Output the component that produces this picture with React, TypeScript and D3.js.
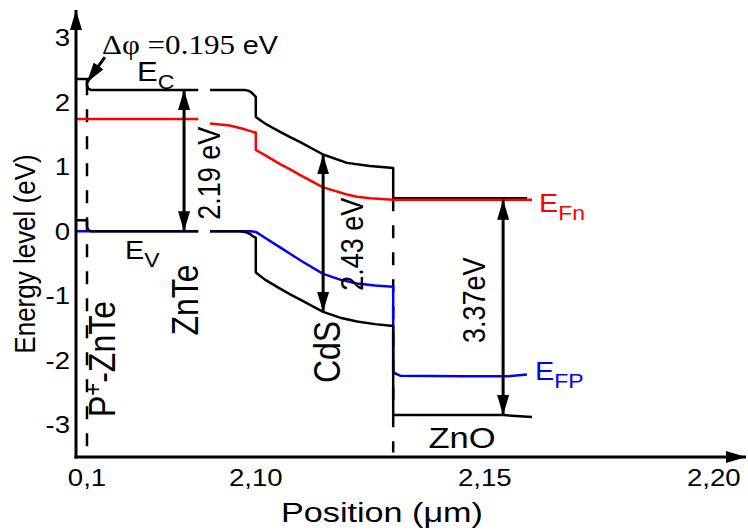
import React, { useEffect, useRef } from 'react';
import * as d3 from 'd3';

type Pt = [number, number];

// band edges, [position (µm), energy (eV)]
const EC_LEFT: Pt[] = [[0, 2.36], [0.1, 2.36], [0.1, 2.26], [0.12, 2.21], [0.16, 2.19], [1.9, 2.19]];
const EV_LEFT: Pt[] = [[0, 0.17], [0.1, 0.17], [0.1, 0.07], [0.12, 0.02], [0.16, 0], [1.9, 0]];
const EFN_LEFT: Pt[] = [[0, 1.74], [1.9, 1.74]];
const EFP_LEFT: Pt[] = [[0, 0], [1.9, 0]];

const EC_RIGHT: Pt[] = [
  [2.09, 2.19], [2.0976, 2.19], [2.0983, 2.18], [2.0989, 2.16], [2.0995, 2.12], [2.0999, 2.09], [2.1, 2.08],
  [2.1, 1.77], [2.102, 1.67], [2.1053, 1.54], [2.1075, 1.46], [2.1097, 1.38], [2.1147, 1.19],
  [2.1199, 1.06], [2.1249, 1.01], [2.13, 0.98], [2.13, 0.51], [2.1592, 0.51],
];
const EFN_RIGHT: Pt[] = [
  [2.09, 1.67], [2.0943, 1.64], [2.0976, 1.58], [2.0994, 1.54], [2.1, 1.53],
  [2.1, 1.26], [2.102, 1.18], [2.1053, 1.04], [2.1075, 0.96], [2.1097, 0.87], [2.1147, 0.68],
  [2.1199, 0.57], [2.1221, 0.535], [2.125, 0.51], [2.13, 0.49], [2.1603, 0.49],
];
const EFP_RIGHT: Pt[] = [
  [2.09, 0], [2.0989, 0], [2.1, -0.01], [2.102, -0.1], [2.1053, -0.25], [2.1075, -0.35],
  [2.1097, -0.45], [2.1147, -0.66], [2.1184, -0.75], [2.1221, -0.81], [2.126, -0.84], [2.13, -0.86],
  [2.13, -2.19], [2.1315, -2.24], [2.145, -2.25], [2.155, -2.25], [2.1592, -2.22],
];
const EV_RIGHT: Pt[] = [
  [2.09, 0], [2.0965, 0], [2.0976, -0.01], [2.0987, -0.04], [2.0994, -0.08], [2.1, -0.1],
  [2.1, -0.64], [2.102, -0.75], [2.1053, -0.89], [2.1075, -0.98], [2.1097, -1.06], [2.1147, -1.25],
  [2.1184, -1.34], [2.1221, -1.4], [2.126, -1.44], [2.13, -1.47], [2.13, -2.85], [2.154, -2.85], [2.1603, -2.88],
];

// interfaces (dashed)
const INTERFACES = [
  { x: 0.1, from: 2.31, to: -3.43 },
  { x: 2.13, from: 0.51, to: -3.43 },
];

// band gap arrows
const GAPS = [
  { x: 1.67, top: 2.19, bottom: 0, label: '2.19 eV', dx: 27, mid: 0.9 },
  { x: 2.1147, top: 1.19, bottom: -1.25, label: '2.43 eV', dx: 31, mid: -0.2 },
  { x: 2.154, top: 0.49, bottom: -2.85, label: '3.37eV', dx: -27, mid: -1.07 },
];

const X_TICKS = [0.1, 2.1, 2.15, 2.2];
const X_TICK_LABELS = ['0,1', '2,10', '2,15', '2,20'];
const Y_TICKS = [-3, -2, -1, 0, 1, 2, 3];

const SX = 1.15; // text in the original is a little wider than tall

export default function App() {
  const ref = useRef<SVGSVGElement>(null);

  useEffect(() => {
    if (!ref.current) return;
    const svg = d3.select(ref.current);
    svg.selectAll('*').remove();

    const x = d3.scaleLinear().domain([0, 0.1, 2.09, 2.2]).range([76, 87, 210, 713.8]);
    const y = d3.scaleLinear().domain([-3.5, 3.43]).range([457, 10]);

    const font = 'Liberation Sans, Arial, sans-serif';

    const defs = svg.append('defs');
    defs.append('marker')
      .attr('id', 'ah')
      .attr('viewBox', '0 0 20 12')
      .attr('refX', 20).attr('refY', 6)
      .attr('markerWidth', 20).attr('markerHeight', 12)
      .attr('markerUnits', 'userSpaceOnUse')
      .attr('orient', 'auto-start-reverse')
      .append('path').attr('d', 'M0,0 L20,6 L0,12 Z').attr('fill', '#000');

    const text = (px: number, py: number, str: string, size: number, opts: any = {}) => {
      const t = svg.append('text')
        .attr('transform', `translate(${px},${py}) scale(${opts.sx || SX},1)${opts.rotate ? ' rotate(-90)' : ''}`)
        .attr('text-anchor', opts.anchor || 'start')
        .attr('font-family', opts.family || font)
        .attr('font-size', size)
        .attr('fill', opts.fill || '#000');
      if (str) t.text(str);
      return t;
    };

    const line = d3.line<Pt>().x(d => x(d[0])).y(d => y(d[1]));
    const draw = (pts: Pt[], color: string) =>
      svg.append('path').attr('d', line(pts)).attr('fill', 'none')
        .attr('stroke', color).attr('stroke-width', 2.5).attr('stroke-linejoin', 'round');

    // dashed interfaces
    INTERFACES.forEach(d => {
      svg.append('line')
        .attr('x1', x(d.x)).attr('x2', x(d.x))
        .attr('y1', y(d.from)).attr('y2', y(d.to))
        .attr('stroke', '#000').attr('stroke-width', 2.5)
        .attr('stroke-dasharray', '13 14');
    });

    draw(EFP_LEFT, '#0000ff');
    draw(EFP_RIGHT, '#0000ff');
    draw(EC_LEFT, '#000');
    draw(EC_RIGHT, '#000');
    draw(EV_LEFT, '#000');
    draw(EV_RIGHT, '#000');
    draw(EFN_LEFT, '#ff0000');
    draw(EFN_RIGHT, '#ff0000');

    // gap arrows
    GAPS.forEach(d => {
      svg.append('line')
        .attr('x1', x(d.x)).attr('x2', x(d.x))
        .attr('y1', y(d.top)).attr('y2', y(d.bottom))
        .attr('stroke', '#000').attr('stroke-width', 3)
        .attr('marker-start', 'url(#ah)').attr('marker-end', 'url(#ah)');
      text(x(d.x) + d.dx + 9, y(d.mid), d.label, 27, { rotate: true, anchor: 'middle' });
    });

    // axes
    svg.append('line')
      .attr('x1', x(0)).attr('x2', x(0)).attr('y1', y(-3.5) + 1.5).attr('y2', 10)
      .attr('stroke', '#000').attr('stroke-width', 3).attr('marker-end', 'url(#ah)');
    svg.append('line')
      .attr('x1', x(0) - 1.5).attr('x2', 746).attr('y1', y(-3.5)).attr('y2', y(-3.5))
      .attr('stroke', '#000').attr('stroke-width', 3).attr('marker-end', 'url(#ah)');

    X_TICKS.forEach((v, i) => text(x(v), 486, X_TICK_LABELS[i], 24, { anchor: 'middle' }));
    Y_TICKS.forEach(v => text(70, y(v) + 8.5, String(v), 24, { anchor: 'end' }));

    text(382, 522, 'Position (\u03bcm)', 28, { anchor: 'middle', sx: 1.22 });
    text(35, 254, 'Energy level (eV)', 26, { rotate: true, anchor: 'middle' });

    // layer labels
    text(198, 300, 'ZnTe', 32, { rotate: true, anchor: 'middle' });
    text(340, 352, 'CdS', 32, { rotate: true, anchor: 'middle' });
    text(462, 448, 'ZnO', 30, { anchor: 'middle' });
    const pz = text(115, 417, '', 32, { rotate: true });
    pz.append('tspan').text('P');
    pz.append('tspan').attr('font-size', 22).attr('dy', -12).text('+');
    pz.append('tspan').attr('dy', 12).text('-ZnTe');

    // band labels
    const sub = (px: number, py: number, main: string, s: string, color: string, size: number) => {
      const t = text(px, py, '', size, { fill: color });
      t.append('tspan').text(main);
      t.append('tspan').attr('font-size', 20).attr('dy', 8).text(s);
    };
    sub(137, 81, 'E', 'C', '#000', 27);
    sub(125, 259, 'E', 'V', '#000', 25);
    sub(539, 212, 'E', 'Fn', '#ff0000', 25);
    sub(535, 380, 'E', 'FP', '#0000ff', 25);

    // work function offset
    const df = text(102, 54, '', 27, { family: 'Liberation Serif, Times New Roman, serif' });
    df.append('tspan').text('\u0394\u03c6 =0.195 ');
    df.append('tspan').attr('font-family', font).attr('font-size', 25).text('eV');
    svg.append('line')
      .attr('x1', x(0.39)).attr('y1', y(2.7))
      .attr('x2', x(0.1)).attr('y2', y(2.31))
      .attr('stroke', '#000').attr('stroke-width', 3).attr('marker-end', 'url(#ah)');
  }, []);

  return (
    <svg ref={ref} width={748} height={531}
      style={{ position: 'absolute', left: 0, top: 0, background: '#fff' }} />
  );
}
